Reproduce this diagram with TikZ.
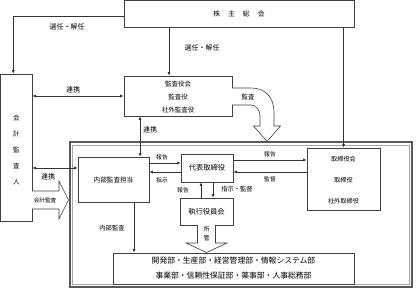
\documentclass[tikz,border=0pt]{standalone}
\usepackage{fontspec}
\setmainfont{Noto Sans CJK JP}
\usetikzlibrary{arrows.meta}
\begin{document}
\begin{tikzpicture}[x=1pt,y=-1pt,
  line width=0.6pt,
  box/.style={draw=black!75, line width=0.6pt, rectangle, inner sep=0pt, align=center},
  lbl/.style={font=\fontsize{6.5}{7}\selectfont, inner sep=0pt},
  conn/.style={draw=black!80, line width=0.7pt},
  arr/.style={conn, -{Latex[length=3.5pt,width=3pt]}},
  darr/.style={conn, {Latex[length=3.5pt,width=3pt]}-{Latex[length=3.5pt,width=3pt]}},
  blockarrow/.style={draw=black!75, fill=white, line width=0.6pt, line join=miter}
]
\useasboundingbox (0,0) rectangle (417,288);

% outer company frame
\draw[draw=black!65, line width=2pt] (69.5,142.5) rectangle (411.5,286.5);
\draw[draw=black!35, line width=0.5pt] (71.8,144.8) rectangle (409.2,284.2);

% boxes
\node[box, minimum width=230, minimum height=26.5, font=\fontsize{6.8}{7}\selectfont] (soukai) at (239,13.75)
  {株\hspace{8pt}主\hspace{8pt}総\hspace{8pt}会};
\node[box, minimum width=108, minimum height=40, font=\fontsize{6.5}{13}\selectfont] (kansa) at (178,96)
  {\rule{0pt}{7.5pt}監査役会\\監査役\\社外監査役};
\node[box, minimum width=31.5, minimum height=147, font=\fontsize{6.5}{16}\selectfont] (kaikei) at (16.25,147.5)
  {\rule{0pt}{10.6pt}会\\計\\監\\査\\人};
\node[box, minimum width=71, minimum height=45, font=\fontsize{6.6}{7}\selectfont] (naibu) at (113.5,179.5)
  {内部監査担当};
\node[box, minimum width=52, minimum height=28, font=\fontsize{7.3}{8}\selectfont] (daihyo) at (207,168)
  {代表取締役};
\node[box, minimum width=53, minimum height=27, font=\fontsize{7.3}{8}\selectfont] (shikko) at (206.5,211.5)
  {執行役員会};
\node[box, minimum width=73, minimum height=62, font=\fontsize{6.2}{21}\selectfont] (tori) at (343.5,179)
  {\rule{0pt}{7.5pt}取締役会\\取締役\\社外取締役};
\node[box, minimum width=241, minimum height=31, font=\fontsize{7.8}{15}\selectfont] (bumon) at (233.5,268.5)
  {開発部・生産部・経営管理部・情報システム部\\事業部・信頼性保証部・薬事部・人事総務部};

% helper coordinates
\coordinate (soukaiL) at ([yshift=-2.5pt]soukai.west);
\coordinate (kaikeiT) at ([xshift=-3pt]kaikei.north);
\coordinate (kansaT) at ([xshift=-9pt]kansa.north);
\coordinate (naibuT) at ([xshift=26.5pt]naibu.north);
\coordinate (naibuL) at ([yshift=11.5pt]naibu.west);
\coordinate (daihyoL1) at ([yshift=5pt]daihyo.west);
\coordinate (daihyoL2) at ([yshift=-4pt]daihyo.west);
\coordinate (daihyoR1) at ([yshift=8pt]daihyo.east);
\coordinate (daihyoR2) at ([yshift=-4pt]daihyo.east);
\coordinate (daihyoB1) at ([xshift=-6pt]daihyo.south);
\coordinate (daihyoB2) at ([xshift=6pt]daihyo.south);
\coordinate (naibuB) at ([xshift=20.5pt]naibu.south);

% connectors from shareholders meeting
\draw[arr] (soukaiL) -| (kaikeiT);
\draw[arr] (kansaT |- soukai.south) -- (kansaT);
\draw[arr] (tori.north |- soukai.south) -- (tori.north);

% liaison arrows
\draw[darr] (kaikei.east |- kansa.west) -- (kansa.west);
\draw[darr] (naibuT |- kansa.south) -- (naibuT);
\draw[darr] (kaikei.east |- naibuL) -- (naibuL);

% internal audit <-> representative director
\draw[arr] (naibu.east |- daihyoL1) -- (daihyoL1);
\draw[arr] (daihyoL2) -- (naibu.east |- daihyoL2);

% representative director <-> board
\draw[arr] (daihyoR1) -- (tori.west |- daihyoR1);
\draw[arr] (tori.west |- daihyoR2) -- (daihyoR2);

% representative director <-> executive committee
\draw[arr] (daihyoB1 |- shikko.north) -- (daihyoB1);
\draw[arr] (daihyoB2) -- (daihyoB2 |- shikko.north);

% internal audit -> departments
\draw[arr] (naibuB) -- (naibuB |- bumon.north);

% block arrows
\draw[blockarrow] (232,88) -- (251,88) .. controls (265,88) and (274,97) .. (274,112)
  -- (274,126) -- (280.5,126) -- (267,141.5) -- (253.5,126) -- (260,126) -- (260,116)
  .. controls (260,110) and (256,105) .. (251,105) -- (232,105);
\draw[blockarrow] (32,191) -- (59,191) -- (59,181) -- (68.5,200) -- (59,219) -- (59,209) -- (32,209);
\draw[blockarrow] (197.5,225) -- (197.5,243) -- (186,243) -- (206.5,252.5) -- (227,243) -- (215.5,243) -- (215.5,225);

% labels
\node[lbl, font=\fontsize{7}{8}\selectfont] at (67,27) {選任・解任};
\node[lbl, font=\fontsize{7}{8}\selectfont] at (202,48) {選任・解任};
\node[lbl, font=\fontsize{7}{8}\selectfont] at (73,90) {連携};
\node[lbl] at (248,97) {監査};
\node[lbl, font=\fontsize{7}{8}\selectfont] at (150,130) {連携};
\node[lbl, font=\fontsize{7}{8}\selectfont] at (48,177) {連携};
\node[lbl, font=\fontsize{5.6}{6}\selectfont] at (45,200) {会計監査};
\node[lbl, font=\fontsize{5.8}{6}\selectfont] at (162,157) {報告};
\node[lbl, font=\fontsize{5.8}{6}\selectfont] at (162,180) {指示};
\node[lbl, font=\fontsize{5.8}{6}\selectfont] at (270,154) {報告};
\node[lbl, font=\fontsize{5.8}{6}\selectfont] at (270,179) {監督};
\node[lbl, font=\fontsize{5.8}{6}\selectfont] at (183,190) {報告};
\node[lbl, font=\fontsize{6.3}{7}\selectfont] at (237,189) {指示・監督};
\node[lbl, font=\fontsize{6.3}{7}\selectfont] at (112,228) {内部監査};
\node[lbl, font=\fontsize{6}{9.5}\selectfont, align=center] at (206.5,234) {所\\管};
\end{tikzpicture}
\end{document}
